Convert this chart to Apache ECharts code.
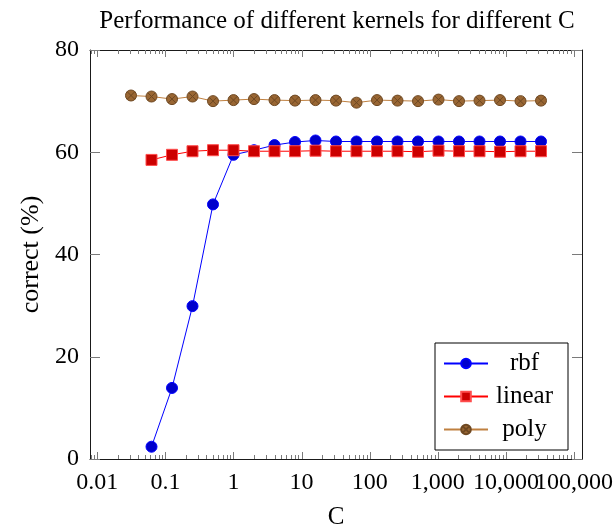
<!DOCTYPE html>
<html>
<head>
<meta charset="utf-8">
<script src="https://cdn.jsdelivr.net/npm/echarts@6/dist/echarts.min.js"></script>
<style>
  html, body { margin: 0; padding: 0; background: #fff; }
  #chart { width: 616px; height: 528px; }
</style>
</head>
<body>
<div id="chart"></div>
<script>
// C values (powers of two)
const cPoly = [0.03125, 0.0625, 0.125, 0.25, 0.5, 1, 2, 4, 8, 16, 32, 64, 128, 256, 512,
               1024, 2048, 4096, 8192, 16384, 32768];
const cRbfLinear = [0.0625, 0.125, 0.25, 0.5, 1, 2, 4, 8, 16, 32, 64, 128, 256, 512,
                    1024, 2048, 4096, 8192, 16384, 32768];

// correct (%) per kernel
const rbfValues = [2.4, 13.9, 29.9, 49.8, 59.5, 60.4, 61.4, 62.0, 62.3, 62.1, 62.1, 62.1,
                   62.1, 62.1, 62.1, 62.1, 62.1, 62.1, 62.1, 62.1];
const linearValues = [58.5, 59.5, 60.2, 60.4, 60.4, 60.2, 60.2, 60.2, 60.3, 60.2, 60.2, 60.2,
                      60.2, 60.1, 60.3, 60.2, 60.2, 60.1, 60.2, 60.2];
const polyValues = [71.1, 70.9, 70.4, 70.9, 70.0, 70.2, 70.4, 70.2, 70.1, 70.2, 70.1, 69.7,
                    70.2, 70.1, 70.0, 70.3, 70.0, 70.1, 70.2, 70.0, 70.1];

// axis ticks
const xTickValues = [0.01, 0.1, 1, 10, 100, 1000, 10000, 100000];
const xTickLabels = ['0.01', '0.1', '1', '10', '100', '1,000', '10,000', '100,000'];
const yTickValues = [0, 20, 40, 60, 80];

const X_MIN = Math.pow(2, -7);
const X_MAX = Math.pow(2, 17);
const Y_MIN = 0, Y_MAX = 80;

// minor ticks at 2..9 x 10^n inside the axis range
const minorTicks = [];
for (let e = -3; e <= 5; e++) {
  for (let k = 2; k <= 9; k++) {
    const v = k * Math.pow(10, e);
    if (v > X_MIN && v < X_MAX) minorTicks.push(v);
  }
}
// all x ticks for the frame: [value, length]
const xFrameTicks = xTickValues.map(v => [v, 7]).concat(minorTicks.map(v => [v, 4]));

const FONT = '"Liberation Serif", "DejaVu Serif", serif';
const TEXT = '#000';
const FRAME = '#1a1a1a';
const TICK = '#7a7a7a';

function xLabel(v) {
  const e = Math.round(Math.log10(v));
  const i = xTickValues.findIndex(t => Math.round(Math.log10(t)) === e);
  return i >= 0 ? xTickLabels[i] : '';
}

const zip = (xs, ys) => xs.map((x, i) => [x, ys[i]]);

// circle with a cross (otimes mark)
const otimes = 'path://M0,10A10,10,0,1,1,20,10A10,10,0,1,1,0,10Z' +
               'M2.93,2.93L17.07,17.07M17.07,2.93L2.93,17.07';

// one tick per item, drawn inward from the bottom or the top edge
function tickRenderer(atTop) {
  return function (params, api) {
    const v = api.value(0);
    const len = api.value(2);
    const p = api.coord([v, atTop ? Y_MAX : Y_MIN]);
    const x = Math.round(p[0]) + 0.5;
    return {
      type: 'line',
      shape: { x1: x, y1: p[1], x2: x, y2: atTop ? p[1] + len : p[1] - len },
      style: { stroke: TICK, lineWidth: 1 }
    };
  };
}

const chart = echarts.init(document.getElementById('chart'), null, { renderer: 'canvas' });

chart.setOption({
  backgroundColor: '#fff',
  animation: false,
  textStyle: { fontFamily: FONT, color: TEXT },
  grid: { left: 90, right: 34, top: 50, bottom: 69, outerBoundsMode: 'none' },
  graphic: [{
    type: 'text',
    x: 337, y: 21,
    style: {
      text: 'Performance of different kernels for different C',
      font: '25px ' + FONT, fill: TEXT, align: 'center', verticalAlign: 'middle'
    }
  }],
  legend: {
    data: ['rbf', 'linear', 'poly'],
    orient: 'vertical',
    left: 435, top: 343,
    padding: [8, 12, 8, 8],
    itemWidth: 44, itemHeight: 12, itemGap: 8,
    backgroundColor: '#fff',
    borderColor: '#000', borderWidth: 1, borderRadius: 0,
    formatter: '{t|{name}}',
    textStyle: {
      fontFamily: FONT, fontSize: 25, color: TEXT,
      rich: { t: { width: 63, align: 'center', lineHeight: 24, fontSize: 25, fontFamily: FONT, color: TEXT } }
    }
  },
  xAxis: [{
    type: 'log', logBase: 10, min: X_MIN, max: X_MAX, position: 'bottom',
    axisLine: { onZero: false, lineStyle: { color: FRAME, width: 1 } },
    axisTick: { show: false },
    axisLabel: {
      formatter: xLabel, showMinLabel: false, showMaxLabel: false,
      fontFamily: FONT, fontSize: 24, color: TEXT, margin: 12
    },
    splitLine: { show: false },
    name: 'C', nameLocation: 'middle', nameGap: 46,
    nameTextStyle: { fontFamily: FONT, fontSize: 25, color: TEXT }
  }, {
    type: 'log', logBase: 10, min: X_MIN, max: X_MAX, position: 'top',
    axisLine: { onZero: false, lineStyle: { color: FRAME, width: 1 } },
    axisTick: { show: false },
    axisLabel: { show: false },
    splitLine: { show: false }
  }],
  yAxis: [{
    type: 'value', min: Y_MIN, max: Y_MAX, interval: 20, position: 'left',
    axisLine: { show: true, onZero: false, lineStyle: { color: FRAME, width: 1 } },
    axisTick: { show: true, inside: true, length: 10, lineStyle: { color: TICK } },
    axisLabel: { fontFamily: FONT, fontSize: 24, color: TEXT, margin: 11,
                 formatter: v => (yTickValues.indexOf(v) >= 0 ? String(v) : '') },
    splitLine: { show: false },
    name: 'correct (%)', nameLocation: 'middle', nameGap: 45,
    nameTextStyle: { fontFamily: FONT, fontSize: 26, color: TEXT }
  }, {
    type: 'value', min: Y_MIN, max: Y_MAX, interval: 20, position: 'right',
    axisLine: { show: true, onZero: false, lineStyle: { color: FRAME, width: 1 } },
    axisTick: { show: true, inside: true, length: 10, lineStyle: { color: TICK } },
    axisLabel: { show: false },
    splitLine: { show: false }
  }],
  series: [{
    type: 'custom',
    data: xFrameTicks.map(t => [t[0], Y_MIN, t[1]]),
    renderItem: tickRenderer(false)
  }, {
    type: 'custom',
    data: xFrameTicks.map(t => [t[0], Y_MIN, t[1]]),
    renderItem: tickRenderer(true)
  }, {
    name: 'rbf', type: 'line',
    data: zip(cRbfLinear, rbfValues),
    symbol: 'circle', symbolSize: 11,
    lineStyle: { color: '#0000ff', width: 1 },
    itemStyle: { color: '#0000cc', borderColor: '#0000ff', borderWidth: 1 },
    z: 3
  }, {
    name: 'linear', type: 'line',
    data: zip(cRbfLinear, linearValues),
    symbol: 'rect', symbolSize: 11,
    lineStyle: { color: '#ff0000', width: 1 },
    itemStyle: { color: '#cc0000', borderColor: '#ff4d4d', borderWidth: 1 },
    z: 4
  }, {
    name: 'poly', type: 'line',
    data: zip(cPoly, polyValues),
    symbol: otimes, symbolSize: 11,
    lineStyle: { color: '#bf8040', width: 1 },
    itemStyle: { color: '#996633', borderColor: '#6e4822', borderWidth: 1 },
    z: 5
  }]
});
</script>
</body>
</html>
